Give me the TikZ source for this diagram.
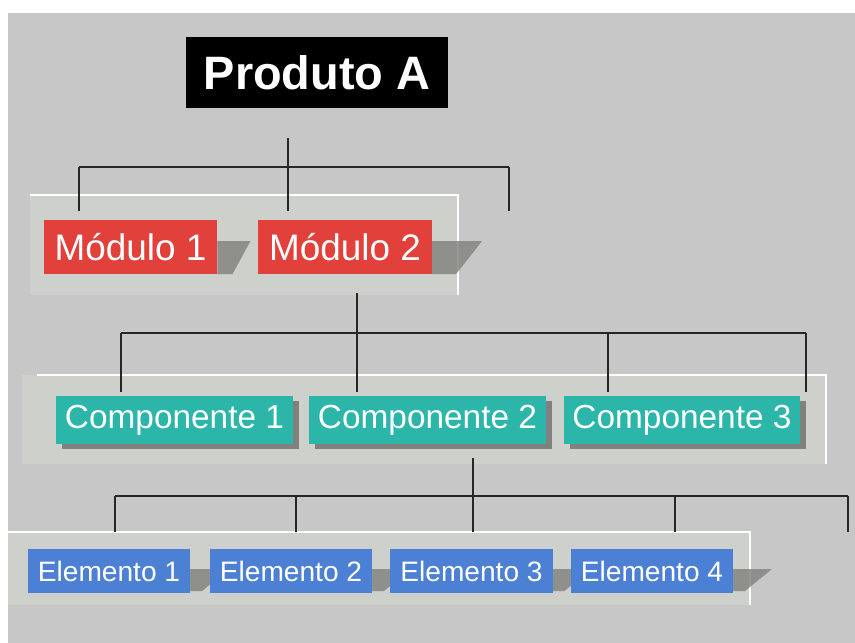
\documentclass[tikz,border=0pt]{standalone}
\usepackage{fontspec}
\setmainfont{Liberation Sans}
\usetikzlibrary{shadows}

\definecolor{bggrey}{RGB}{199,199,199}
\definecolor{panelgrey}{RGB}{206,208,204}
\definecolor{modred}{RGB}{226,64,58}
\definecolor{compteal}{RGB}{44,182,170}
\definecolor{elemblue}{RGB}{76,128,212}
\definecolor{shadegrey}{RGB}{128,128,124}

\tikzset{
	box/.style={inner sep=0pt, text=white, align=center},
	link/.style={draw=black!85, line width=1.2pt},
	panel/.style={fill=panelgrey},
	shade/.style={fill=shadegrey}
}

\begin{document}
\begin{tikzpicture}[x=0.03cm,y=-0.03cm]
		%background
		\useasboundingbox (0,0) rectangle (855,643);
		\fill[white] (0,0) rectangle (855,643);
		\fill[bggrey] (8,13) rectangle (855,643);
		
		%panels
		\fill[panel] (30,195) rectangle (458,295);
		\draw[white, line width=1pt] (30,195) -- (458,195) -- (458,295);
		\fill[panel] (22,375) rectangle (826,464);
		\draw[white, line width=1pt] (37,375) -- (826,375) -- (826,464);
		\fill[panel] (8,532) rectangle (750,605);
		\draw[white, line width=1pt] (8,532) -- (750,532) -- (750,605);
		
		%top box
		\node[box, fill=black, minimum width=7.86cm, minimum height=2.13cm,
			font=\bfseries\fontsize{40}{42}\selectfont] (prod) at (317,72.5) {Produto A};
		
		%modules
		\begin{scope}[every node/.style={box, fill=modred, minimum width=5.2cm,
				minimum height=1.62cm, font=\fontsize{31.5}{33}\selectfont}]
			\node (mod1) at (130.5,247) {Módulo 1};
			\node (mod2) at (345,247) {Módulo 2};
		\end{scope}
		\fill[shade, fill opacity=0.8] (mod1.south east) -- ++(0,-33) -- ++(33,0) -- ++(-18,33) -- cycle;
		\fill[shade, fill opacity=0.8] (mod2.south east) -- ++(0,-33) -- ++(50,0) -- ++(-26,33) -- cycle;
		
		%components
		\begin{scope}[every node/.style={box, fill=compteal, minimum width=7.1cm,
				minimum height=1.44cm, font=\fontsize{28.5}{30}\selectfont,
				drop shadow={shadow xshift=0.18cm, shadow yshift=-0.15cm, fill=shadegrey, opacity=1}}]
			\node (comp1) at (174.5,420) {Componente 1};
			\node (comp2) at (427.5,420) {Componente 2};
			\node (comp3) at (682,420) {Componente 3};
		\end{scope}
		
		%elements
		\foreach \x in {109,291,471.5,652}
			\fill[shade, fill opacity=0.8] (\x,593) ++(81,-2) -- ++(0,-22) -- ++(39,0) -- ++(-27,22) -- cycle;
		\begin{scope}[every node/.style={box, fill=elemblue, minimum width=4.87cm,
				minimum height=1.32cm, font=\fontsize{24}{26}\selectfont}]
			\node (elem1) at (109,571) {Elemento 1};
			\node (elem2) at (291,571) {Elemento 2};
			\node (elem3) at (471.5,571) {Elemento 3};
			\node (elem4) at (652,571) {Elemento 4};
		\end{scope}
		
		%first level lines
		\coordinate (p0) at (288,138);
		\foreach \x/\n in {79/1,288/2,509/3} {
			\coordinate (pa\n) at (\x,167);
			\coordinate (pb\n) at (\x,211);
		}
		\draw[link] (pa1) -- (pa3);
		\draw[link] (p0) -- (pb2);
		\draw[link] (pa1) -- (pb1);
		\draw[link] (pa3) -- (pb3);
		
		%second level lines
		\coordinate (m0) at (357,293);
		\foreach \x/\n in {121/1,357/2,608/3,806/4} {
			\coordinate (ma\n) at (\x,333);
			\coordinate (mb\n) at (\x,392);
		}
		\draw[link] (ma1) -- (ma4);
		\draw[link] (m0) -- (mb2);
		\foreach \n in {1,3,4}
			\draw[link] (ma\n) -- (mb\n);
		
		%third level lines
		\coordinate (c0) at (473,458);
		\foreach \x/\n in {115/1,296/2,473/3,675/4,848/5} {
			\coordinate (ca\n) at (\x,496);
			\coordinate (cb\n) at (\x,532);
		}
		\draw[link] (ca1) -- (ca5);
		\draw[link] (c0) -- (cb3);
		\foreach \n in {1,2,4,5}
			\draw[link] (ca\n) -- (cb\n);
		
		\end{tikzpicture}
\end{document}
